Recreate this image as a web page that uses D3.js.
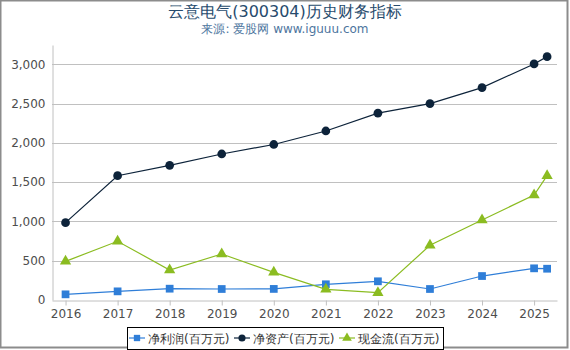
<!DOCTYPE html>
<html>
<head>
<meta charset="utf-8">
<script src="https://cdn.jsdelivr.net/npm/d3@7"></script>
<style>
  body { margin: 0; background: #fff; }
  svg { font-family: "DejaVu Sans", sans-serif; }
</style>
</head>
<body>
<div id="chart"></div>
<script>
// years (last point is the latest quarter of 2025)
var years = [2016, 2017, 2018, 2019, 2020, 2021, 2022, 2023, 2024, 2025, 2025.25];
var tickYears = [2016, 2017, 2018, 2019, 2020, 2021, 2022, 2023, 2024, 2025];
var yTicks = [0, 500, 1000, 1500, 2000, 2500, 3000];

var netProfit = [72, 110, 144, 140, 141, 200, 238, 140, 305, 403, 398];
var netAssets = [984, 1582, 1714, 1858, 1979, 2151, 2378, 2499, 2703, 3004, 3097];
var cashFlow = [492, 747, 382, 585, 352, 136, 93, 696, 1018, 1336, 1582];

var seriesNames = ["净利润(百万元)", "净资产(百万元)", "现金流(百万元)"];
var colors = ["#2f7ed8", "#0d233a", "#8bbc21"];
var symbols = [d3.symbolSquare, d3.symbolCircle, d3.symbolTriangle];

var series = [netProfit, netAssets, cashFlow].map(function (vals, i) {
  return { name: seriesNames[i], color: colors[i], symbol: symbols[i],
    values: vals.map(function (v, j) { return { x: years[j], y: v }; }) };
});

var W = 570, H = 350;
var margin = { top: 45, left: 52, right: 13, bottom: 50 };

var svg = d3.select("#chart").append("svg").attr("width", W).attr("height", H);

// outer frame
svg.append("rect")
  .attr("x", 0.5).attr("y", 0.5).attr("width", 567).attr("height", 347)
  .attr("fill", "#fff").attr("stroke", "#8c8c8c").attr("stroke-width", 2);

svg.append("text").attr("x", 285).attr("y", 17).attr("text-anchor", "middle")
  .attr("font-size", 16).attr("fill", "#274b6d").text("云意电气(300304)历史财务指标");
svg.append("text").attr("x", 285).attr("y", 33).attr("text-anchor", "middle")
  .attr("font-size", 12).attr("fill", "#4d759e").text("来源: 爱股网 www.iguuu.com");

var x = d3.scaleLinear().domain([2015.74, 2025.44]).range([margin.left, W - margin.right]);
var y = d3.scaleLinear().domain([0, 3245]).range([H - margin.bottom, margin.top]);

// grid
svg.append("g").selectAll("line").data(yTicks.slice(1)).join("line")
  .attr("x1", margin.left).attr("x2", W - margin.right)
  .attr("y1", function (d) { return Math.round(y(d)) + 0.5; })
  .attr("y2", function (d) { return Math.round(y(d)) + 0.5; })
  .attr("stroke", "#c0c0c0").attr("stroke-width", 1);

// y axis
var yAxis = svg.append("g").attr("transform", "translate(" + (margin.left + 0.5) + ",0)")
  .call(d3.axisLeft(y).tickValues(yTicks).tickSize(0).tickPadding(7).tickFormat(d3.format(",")));
yAxis.select(".domain").attr("stroke", "#c0c0c0");
yAxis.selectAll("text").attr("font-size", 12).attr("fill", "#4d4d4d")
  .attr("font-family", "DejaVu Sans, sans-serif");

// x axis
var xAxis = svg.append("g").attr("transform", "translate(0," + (Math.round(y(0)) + 0.5) + ")")
  .call(d3.axisBottom(x).tickValues(tickYears).tickSize(5).tickSizeOuter(0).tickPadding(4)
    .tickFormat(d3.format("d")));
xAxis.select(".domain").attr("stroke", "#c0c0c0");
xAxis.selectAll(".tick line").attr("stroke", "#c0c0c0");
xAxis.selectAll("text").attr("font-size", 12).attr("fill", "#4d4d4d")
  .attr("font-family", "DejaVu Sans, sans-serif");

var line = d3.line().x(function (d) { return x(d.x); }).y(function (d) { return y(d.y); });

var g = svg.append("g").selectAll("g").data(series).join("g");
g.append("path")
  .attr("d", function (d) { return line(d.values); })
  .attr("fill", "none").attr("stroke", function (d) { return d.color; }).attr("stroke-width", 1.2);
g.selectAll(".pt").data(function (d) {
  return d.values.map(function (v) { return { v: v, s: d }; });
}).join("path")
  .attr("class", "pt")
  .attr("transform", function (d) { return "translate(" + x(d.v.x) + "," + y(d.v.y) + ")"; })
  .attr("d", function (d) { return d3.symbol().type(d.s.symbol).size(d.s.symbol === d3.symbolTriangle ? 55 : 60)(); })
  .attr("fill", function (d) { return d.s.color; });

// legend
var legend = svg.append("g");
legend.append("rect").attr("x", 127.5).attr("y", 327.5).attr("width", 316).attr("height", 22)
  .attr("fill", "#fff").attr("stroke", "#000").attr("stroke-width", 1);
var itemX = [129, 234, 339];
var items = legend.selectAll(".item").data(series).join("g")
  .attr("class", "item")
  .attr("transform", function (d, i) { return "translate(" + itemX[i] + ",338)"; });
items.append("line").attr("x1", 0).attr("x2", 16).attr("stroke", function (d) { return d.color; })
  .attr("stroke-width", 1.2);
items.append("path").attr("transform", "translate(8,0)")
  .attr("d", function (d) { return d3.symbol().type(d.symbol).size(40)(); })
  .attr("fill", function (d) { return d.color; });
items.append("text").attr("x", 19).attr("y", 4.5).attr("font-size", 12).attr("fill", "#333")
  .text(function (d) { return d.name; });
</script>
</body>
</html>
